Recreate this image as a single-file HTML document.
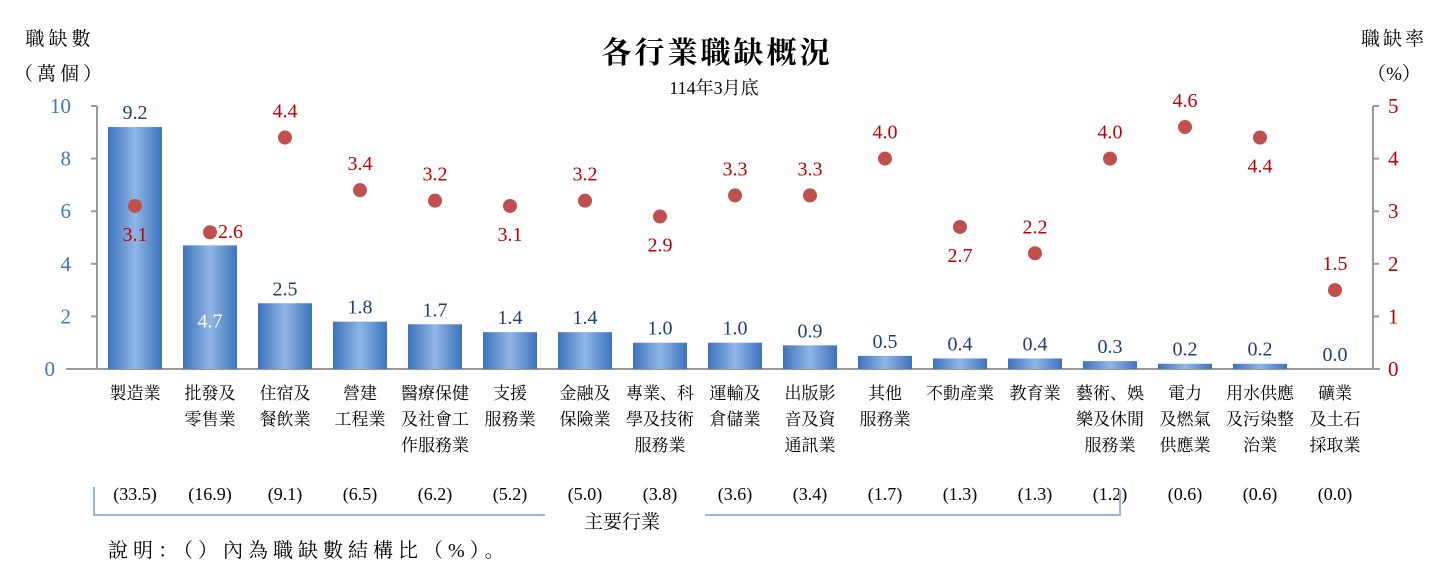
<!DOCTYPE html>
<html><head><meta charset="utf-8"><style>
html,body{margin:0;padding:0;background:#fff;}
svg{display:block;font-family:"Liberation Serif","Noto Serif CJK SC",serif;}
.cjk{font-family:"Liberation Serif","Noto Serif CJK SC","Noto Sans CJK TC",serif;}
</style></head><body>
<svg id="chart" width="1440" height="585" viewBox="0 0 1440 585" xmlns="http://www.w3.org/2000/svg">
<defs>
<linearGradient id="bg" x1="0" x2="1" y1="0" y2="0">
<stop offset="0" stop-color="#3d72bd"/><stop offset="0.5" stop-color="#8fb6e6"/><stop offset="1" stop-color="#3d72bd"/>
</linearGradient>
</defs>
<text x="717" y="63" text-anchor="middle" font-size="30" font-weight="bold" letter-spacing="3" class="cjk">各行業職缺概況</text>
<text x="714" y="94" text-anchor="middle" font-size="18" class="cjk">114年3月底</text>
<text x="60" y="45" text-anchor="middle" font-size="19" letter-spacing="4" class="cjk">職缺數</text>
<text x="60" y="80" text-anchor="middle" font-size="19" letter-spacing="4" class="cjk">（萬個）</text>
<text x="1394" y="45" text-anchor="middle" font-size="19" letter-spacing="3" class="cjk">職缺率</text>
<text x="1394" y="80" text-anchor="middle" font-size="19" class="cjk">（%）</text>
<g id="plot"></g>
<text x="108" y="557" font-size="20" letter-spacing="5" class="cjk">說明：（）內為職缺數結構比（%）。</text>
</svg>
<script>
const categories=[["製造業"],["批發及","零售業"],["住宿及","餐飲業"],["營建","工程業"],["醫療保健","及社會工","作服務業"],["支援","服務業"],["金融及","保險業"],["專業、科","學及技術","服務業"],["運輸及","倉儲業"],["出版影","音及資","通訊業"],["其他","服務業"],["不動產業"],["教育業"],["藝術、娛","樂及休閒","服務業"],["電力","及燃氣","供應業"],["用水供應","及污染整","治業"],["礦業","及土石","採取業"]];
const vacancies=[9.2,4.7,2.5,1.8,1.7,1.4,1.4,1.0,1.0,0.9,0.5,0.4,0.4,0.3,0.2,0.2,0.0];
const rates=[3.1,2.6,4.4,3.4,3.2,3.1,3.2,2.9,3.3,3.3,4.0,2.7,2.2,4.0,4.6,4.4,1.5];
const shares=[33.5,16.9,9.1,6.5,6.2,5.2,5.0,3.8,3.6,3.4,1.7,1.3,1.3,1.2,0.6,0.6,0.0];
const rateLabelPos=["below","right","above","above","above","below","above","below","above","above","above","below","above","above","above","below","above"];
const leftTicks=[0,2,4,6,8,10];
const rightTicks=[0,1,2,3,4,5];

const NS="http://www.w3.org/2000/svg";
const g=document.getElementById('plot');
const y0=369,yTop=106;
const yL=v=>y0-(v/10)*(y0-yTop);
const yR=v=>y0-(v/5)*(y0-yTop);
const xC=i=>135+i*75;
function el(t,a,txt){const e=document.createElementNS(NS,t);for(const k in a)e.setAttribute(k,a[k]);if(txt!==undefined)e.textContent=txt;g.appendChild(e);return e;}

let ax=el('line',{x1:97,y1:yTop,x2:97,y2:y0,stroke:'#999','stroke-width':2});

ax=el('line',{x1:1373,y1:yTop,x2:1373,y2:y0,stroke:'#999','stroke-width':2});

ax=el('line',{x1:66,y1:y0,x2:1380,y2:y0,stroke:'#999','stroke-width':2});

leftTicks.forEach(v=>{
 el('line',{x1:91,y1:yL(v),x2:97,y2:yL(v),stroke:'#999','stroke-width':2});
 const t=el('text',{x:v===0?55:71,y:yL(v)+7,'text-anchor':'end','font-size':21,fill:'#3a78c0'},String(v));
 
});
rightTicks.forEach(v=>{
 el('line',{x1:1373,y1:yR(v),x2:1379,y2:yR(v),stroke:'#999','stroke-width':2});
 const t=el('text',{x:1388,y:yR(v)+7,'font-size':21,fill:'#c00000'},String(v));
 
});
vacancies.forEach((v,i)=>{
 const x=xC(i),h=y0-yL(v);
 if(h>0){const r=el('rect',{x:x-27,y:yL(v),width:54,height:h,fill:'url(#bg)'});
 }
 const inside=i===1;
 const t=el('text',{x:x,y:inside?yL(v)+82:yL(v)-8,'text-anchor':'middle','font-size':20,fill:inside?'#fff':'#1f3f73'},v.toFixed(1));
 
});
rates.forEach((v,i)=>{
 const x=xC(i),y=yR(v);
 const c=el('circle',{cx:x,cy:y,r:7,fill:'#c0504d'});
 
 const p=rateLabelPos[i];
 let a={x:x,y:y-20,'text-anchor':'middle','font-size':20,fill:'#c00000'};
 if(p==='below')a.y=y+35;
 if(p==='right'){a.x=x+8;a.y=y+6;a['text-anchor']='start';}
 const t=el('text',a,v.toFixed(1));
 
});
categories.forEach((lines,i)=>{
 lines.forEach((s,j)=>{
  const t=el('text',{x:xC(i),y:399+j*26,'text-anchor':'middle','font-size':17,class:'cjk'},s);
  
 });
 const t=el('text',{x:xC(i),y:500,'text-anchor':'middle','font-size':18},'('+shares[i].toFixed(1)+')');
 
});
const br=el('polyline',{points:'94,487 94,515 545,515',fill:'none',stroke:'#9ab3d6','stroke-width':2});

const br2=el('polyline',{points:'705,515 1120,515 1120,490',fill:'none',stroke:'#9ab3d6','stroke-width':2});

const bt=el('text',{x:622,y:528,'text-anchor':'middle','font-size':19,class:'cjk'},'主要行業');

</script>
</body></html>
